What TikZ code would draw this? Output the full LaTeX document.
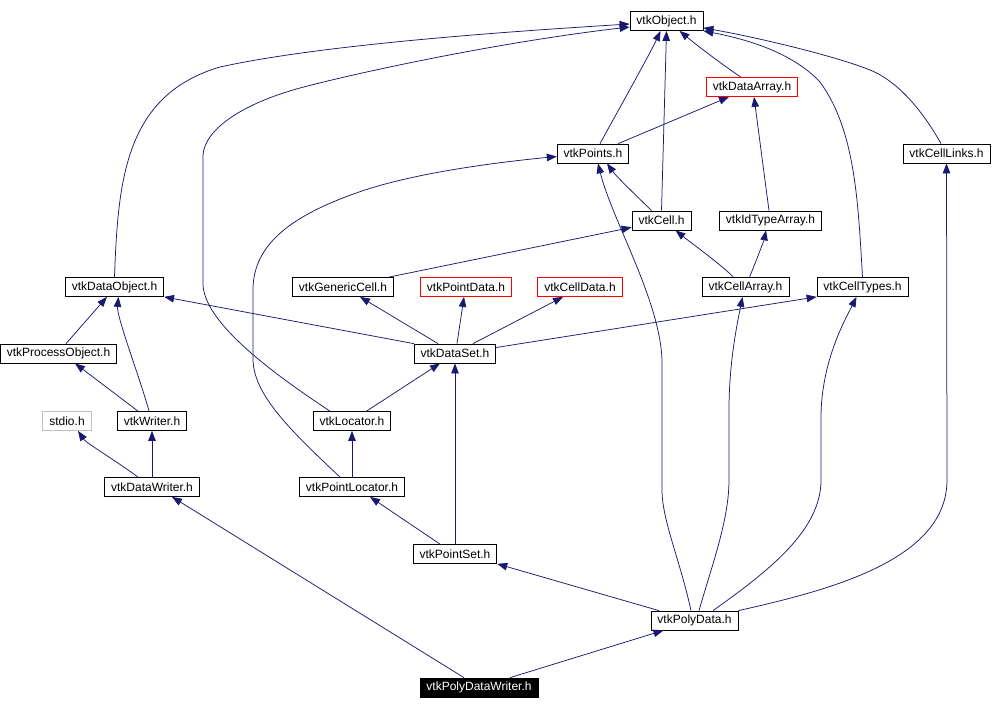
\documentclass[tikz,border=0pt]{standalone}
\usepackage{fontspec}
\setmainfont{Liberation Sans}
\usepackage{tikz}
\usetikzlibrary{arrows.meta}
\definecolor{edgeblue}{RGB}{25,25,112}
\definecolor{linkred}{RGB}{255,0,0}
\definecolor{extgray}{RGB}{191,191,191}

\begin{document}
\begin{tikzpicture}[x=1pt,y=-1pt,
    box/.style={draw,line width=0.75pt,fill=white,inner xsep=6.5pt,inner ysep=0pt,
      minimum height=19pt,font=\fontsize{12}{14}\selectfont},
    redbox/.style={box,draw=linkred},
    graybox/.style={box,draw=extgray},
    mainbox/.style={box,fill=black,text=white},
    dep/.style={draw=edgeblue,line width=0.75pt,-{Triangle[length=10pt,width=7.5pt]}}]
    \useasboundingbox (0,0) rectangle (996,709);
    % headers
    \node[box] (obj) at (666.5,21) {vtkObject.h};
    \node[redbox] (darr) at (752,87) {vtkDataArray.h};
    \node[box] (pts) at (593,153.5) {vtkPoints.h};
    \node[box] (clinks) at (946.5,153.5) {vtkCellLinks.h};
    \node[box] (cell) at (661.5,220.5) {vtkCell.h};
    \node[box] (idarr) at (770.5,220.5) {vtkIdTypeArray.h};
    \node[box] (dobj) at (114.5,287) {vtkDataObject.h};
    \node[box] (gcell) at (343,287) {vtkGenericCell.h};
    \node[redbox] (ptdata) at (466,287) {vtkPointData.h};
    \node[redbox] (cdata) at (580,287) {vtkCellData.h};
    \node[box] (carr) at (745.5,287) {vtkCellArray.h};
    \node[box] (ctypes) at (862.5,287) {vtkCellTypes.h};
    \node[box] (pobj) at (58.5,353.5) {vtkProcessObject.h};
    \node[box] (dset) at (455,353.5) {vtkDataSet.h};
    \node[graybox] (stdio) at (67,421) {stdio.h};
    \node[box] (writer) at (152,421) {vtkWriter.h};
    \node[box] (loc) at (352,421) {vtkLocator.h};
    \node[box] (dwriter) at (152,487) {vtkDataWriter.h};
    \node[box] (ploc) at (352,487) {vtkPointLocator.h};
    \node[box] (pset) at (455,554) {vtkPointSet.h};
    \node[box] (poly) at (694.5,620.5) {vtkPolyData.h};
    \node[mainbox] (pwriter) at (479,687.5) {vtkPolyDataWriter.h};
    % includes, arrow at the included file
    \draw[dep] ([xshift=-11pt]darr.north) .. controls +(-14,-9) and +(18,15) .. ([xshift=13pt]obj.south);
    \draw[dep] ([xshift=7pt]pts.north) .. controls +(12,-22) and +(-10,22) .. ([xshift=-6pt]obj.south);
    \draw[dep] ([xshift=-11pt]pts.north east) -- ([xshift=-23pt]darr.south);
    \draw[dep] (cell.north) -- (obj.south);
    \draw[dep] ([xshift=-10pt]cell.north) .. controls +(-12,-12) and +(10,14) .. ([xshift=14pt]pts.south);
    \draw[dep] ([xshift=-1.5pt]idarr.north) -- ([xshift=2pt]darr.south);
    \draw[dep] ([xshift=-5.5pt]clinks.north) .. controls (925,115) and (900,82) .. (870,70)
        .. controls (835,56) and (760,38) .. ([yshift=3pt]obj.south east);
    \draw[dep] (ctypes.north) .. controls (858,200) and (855,130) .. (820,82)
        .. controls (790,50) and (740,38) .. (obj.south east);
    \draw[dep] (dobj.north) .. controls (118,180) and (125,95) .. (220,67)
        .. controls (320,45) and (500,32) .. ([yshift=-3pt]obj.west);
    \draw[dep] ([xshift=-22pt]loc.north) .. controls (260,365) and (205,320) .. (203,285) -- (203,155)
        .. controls (205,128) and (245,103) .. (300,88) .. controls (360,72) and (500,42) .. ([yshift=-6pt]obj.west);
    \draw[dep] ([xshift=-12pt]ploc.north) .. controls (290,430) and (254,395) .. (253,360) -- (253,290)
        .. controls (253,245) and (290,215) .. (365,190) .. controls (420,172) and (500,162) .. ([yshift=-3pt]pts.west);
    \draw[dep] ([xshift=-5pt]gcell.north east) -- ([yshift=3pt]cell.south west);
    \draw[dep] ([xshift=-12.5pt]carr.north) .. controls +(-6,-8) and +(15,12) .. ([xshift=14pt]cell.south);
    \draw[dep] ([xshift=4pt]carr.north) .. controls +(5,-12) and +(-2,10) .. ([xshift=-4.5pt]idarr.south);
    \draw[dep] ([xshift=7.5pt]pobj.north) -- ([xshift=-7.5pt]dobj.south);
    \draw[dep] ([xshift=-3pt]writer.north) .. controls +(-8,-30) and +(-2,20) .. ([xshift=4pt]dobj.south);
    \draw[dep] ([xshift=-14pt]writer.north) -- ([xshift=16.5pt]pobj.south);
    \draw[dep] (dset.north west) -- (dobj.south east);
    \draw[dep] ([xshift=-17pt]dset.north) -- ([xshift=17pt]gcell.south);
    \draw[dep] ([xshift=2pt]dset.north) -- ([xshift=-2pt]ptdata.south);
    \draw[dep] ([xshift=18pt]dset.north) -- ([xshift=-17pt]cdata.south);
    \draw[dep] ([yshift=6pt]dset.east) -- (ctypes.south west);
    \draw[dep] ([xshift=14.5pt]loc.north) -- ([xshift=-15pt]dset.south);
    \draw[dep] (ploc.north) -- (loc.south);
    \draw[dep] (pset.north) -- (dset.south);
    \draw[dep] ([xshift=-15pt]pset.north) -- ([xshift=18pt]ploc.south);
    \draw[dep] ([xshift=-14pt]dwriter.north) .. controls +(-20,-15) and +(8,12) .. ([xshift=11pt]stdio.south);
    \draw[dep] (dwriter.north) -- (writer.south);
    \draw[dep] ([xshift=-35.5pt]poly.north) -- (pset.south east);
    \draw[dep] ([xshift=-3.5pt]poly.north) .. controls (680,560) and (662,520) .. (662,490) -- (662,360)
        .. controls (660,300) and (612,220) .. ([xshift=5pt]pts.south);
    \draw[dep] ([xshift=4.5pt]poly.north) .. controls (712,565) and (729,520) .. (729,480) -- (729,410)
        .. controls (729,360) and (738,320) .. ([xshift=-3pt]carr.south);
    \draw[dep] ([xshift=18.5pt]poly.north) .. controls (770,570) and (821,530) .. (821,480) -- (821,415)
        .. controls (822,360) and (845,320) .. ([xshift=-6pt]ctypes.south);
    \draw[dep] (poly.north east) .. controls (830,590) and (947,560) .. (947,480) -- (clinks.south);
    \draw[dep] ([xshift=31pt]pwriter.north) -- ([xshift=-31pt]poly.south);
    \draw[dep] ([xshift=-15pt]pwriter.north) -- ([xshift=20pt]dwriter.south);
\end{tikzpicture}
\end{document}
